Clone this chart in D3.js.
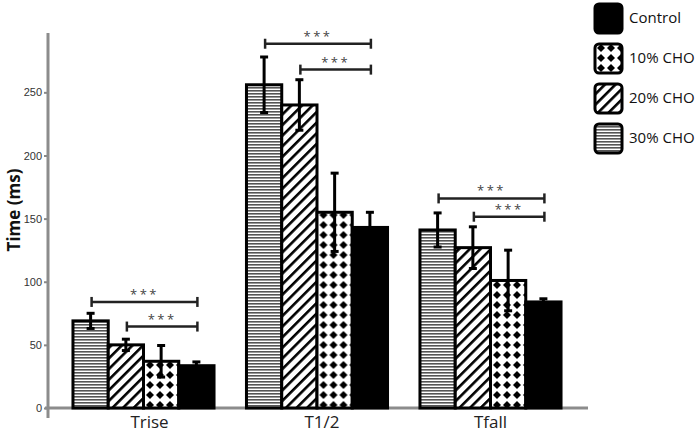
<!DOCTYPE html>
<html>
<head>
<meta charset="utf-8">
<script src="https://cdn.jsdelivr.net/npm/d3@7"></script>
<style>
  body { margin: 0; background: #fff; }
  svg { display: block; font-family: "Open Sans", "Noto Sans", sans-serif; }
</style>
</head>
<body>
<svg id="chart" width="700" height="432"></svg>
<script>
// chart data
const categories = ['Trise', 'T1/2', 'Tfall'];
const series = ['30% CHO', '20% CHO', '10% CHO', 'Control'];
const means = [
    [69, 50, 37, 33.5],
    [256, 240, 155, 143],
    [141, 127, 101, 84]
];
const errors = [
    [6, 4.5, 12.5, 3],
    [22, 20, 31, 12],
    [13.5, 16.5, 24, 2.5]
];
// significance brackets: [category, from series, to series, level]
const brackets = [
    [0, 0, 3, 84], [0, 1, 3, 64.5],
    [1, 0, 3, 288.5], [1, 1, 3, 268],
    [2, 0, 3, 166], [2, 1, 3, 151.5]
];
const yTicks = [0, 50, 100, 150, 200, 250];
const legendOrder = ['Control', '10% CHO', '20% CHO', '30% CHO'];

const svg = d3.select('#chart');
const defs = svg.append('defs');

// fill patterns
let p = defs.append('pattern').attr('id', 'p30').attr('patternUnits', 'userSpaceOnUse')
    .attr('width', 6).attr('height', 3);
p.append('rect').attr('width', 6).attr('height', 3).attr('fill', '#fff');
p.append('rect').attr('width', 6).attr('height', 1.6).attr('fill', '#555');

p = defs.append('pattern').attr('id', 'p20').attr('patternUnits', 'userSpaceOnUse')
    .attr('width', 7.5).attr('height', 7.5).attr('patternTransform', 'rotate(45)');
p.append('rect').attr('width', 7.5).attr('height', 7.5).attr('fill', '#fff');
p.append('rect').attr('width', 2.6).attr('height', 7.5).attr('fill', '#000');

p = defs.append('pattern').attr('id', 'p10').attr('patternUnits', 'userSpaceOnUse')
    .attr('width', 10).attr('height', 10).attr('x', 2).attr('y', 0);
p.append('rect').attr('width', 10).attr('height', 10).attr('fill', '#fff');
p.append('path').attr('d', 'M5,1L9,5L5,9L1,5Z').attr('fill', '#000');

const fills = {'30% CHO': 'url(#p30)', '20% CHO': 'url(#p20)', '10% CHO': 'url(#p10)', 'Control': '#000'};

const x0 = d3.scaleBand().domain(categories).range([56.75, 577.25])
    .paddingInner(0.187).paddingOuter(0.0935);
const x1 = d3.scaleBand().domain(series).range([0, x0.bandwidth()]);
const y = d3.scaleLinear().domain([0, 297]).range([408, 33]);

// axes
const yAxis = svg.append('g').attr('transform', 'translate(48,0)')
    .call(d3.axisLeft(y).tickValues(yTicks).tickSize(4).tickSizeOuter(0).tickPadding(2));
yAxis.select('.domain').remove();
yAxis.selectAll('.tick line').attr('stroke', '#888').attr('stroke-width', 2);
yAxis.selectAll('.tick text').attr('fill', '#333').style('font-size', '11px');

svg.append('line').attr('x1', 48).attr('x2', 48).attr('y1', y(297)).attr('y2', 418)
    .attr('stroke', '#8c8c8c').attr('stroke-width', 3);
svg.append('line').attr('x1', 45).attr('x2', 588).attr('y1', 408).attr('y2', 408)
    .attr('stroke', '#8c8c8c').attr('stroke-width', 3);

svg.append('text').attr('transform', 'translate(20,' + 210 + ') rotate(-90)')
    .attr('text-anchor', 'middle').attr('font-weight', 'bold').attr('font-size', 17)
    .attr('fill', '#111').text('Time (ms)');

const xLabelShift = [6, 5, 0];
svg.selectAll('.xlab').data(categories).enter().append('text')
    .attr('x', (d, i) => x0(d) + x0.bandwidth() / 2 + xLabelShift[i]).attr('y', 428)
    .attr('text-anchor', 'middle').attr('font-size', 17).attr('fill', '#222')
    .text(d => d);

// bars
categories.forEach((c, ci) => {
    const g = svg.append('g').attr('transform', 'translate(' + x0(c) + ',0)');
    series.forEach((s, si) => {
        const v = means[ci][si];
        g.append('rect').attr('x', x1(s)).attr('y', y(v))
            .attr('width', x1.bandwidth()).attr('height', y(0) - y(v))
            .attr('fill', fills[s]).attr('stroke', '#000').attr('stroke-width', 3);
    });
    series.forEach((s, si) => {
        const v = means[ci][si], e = errors[ci][si];
        const cx = x1(s) + x1.bandwidth() / 2;
        g.append('line').attr('x1', cx).attr('x2', cx).attr('y1', y(v + e)).attr('y2', y(v - e))
            .attr('stroke', '#000').attr('stroke-width', 3);
        [v + e, v - e].forEach(t => {
            g.append('line').attr('x1', cx - 4).attr('x2', cx + 4).attr('y1', y(t)).attr('y2', y(t))
                .attr('stroke', '#000').attr('stroke-width', 3);
        });
    });
});

// significance brackets
brackets.forEach(b => {
    const c = categories[b[0]];
    const xa = x0(c) + x1(series[b[1]]) + x1.bandwidth() / 2 + 1;
    const xb = x0(c) + x1(series[b[2]]) + x1.bandwidth() / 2 + 1;
    const yy = y(b[3]);
    const g = svg.append('g').attr('stroke', '#222').attr('stroke-width', 2.5);
    g.append('line').attr('x1', xa).attr('x2', xb).attr('y1', yy).attr('y2', yy);
    g.append('line').attr('x1', xa).attr('x2', xa).attr('y1', yy - 5).attr('y2', yy + 5);
    g.append('line').attr('x1', xb).attr('x2', xb).attr('y1', yy - 5).attr('y2', yy + 5);
    svg.append('text').attr('x', (xa + xb) / 2).attr('y', yy - 3)
        .attr('text-anchor', 'middle').attr('font-size', 13).attr('fill', '#444')
        .attr('letter-spacing', 2.5).text('***');
});

// legend
const legend = svg.append('g').attr('transform', 'translate(594,3)');
legendOrder.forEach((s, i) => {
    const row = legend.append('g').attr('transform', 'translate(0,' + i * 40 + ')');
    row.append('rect').attr('x', 1).attr('y', 1).attr('width', 27).attr('height', 29)
        .attr('rx', 4).attr('fill', fills[s]).attr('stroke', '#000').attr('stroke-width', 3);
    row.append('text').attr('x', 35).attr('y', 20).attr('font-size', 15).attr('fill', '#111')
        .text(s);
});
</script>
</body>
</html>
